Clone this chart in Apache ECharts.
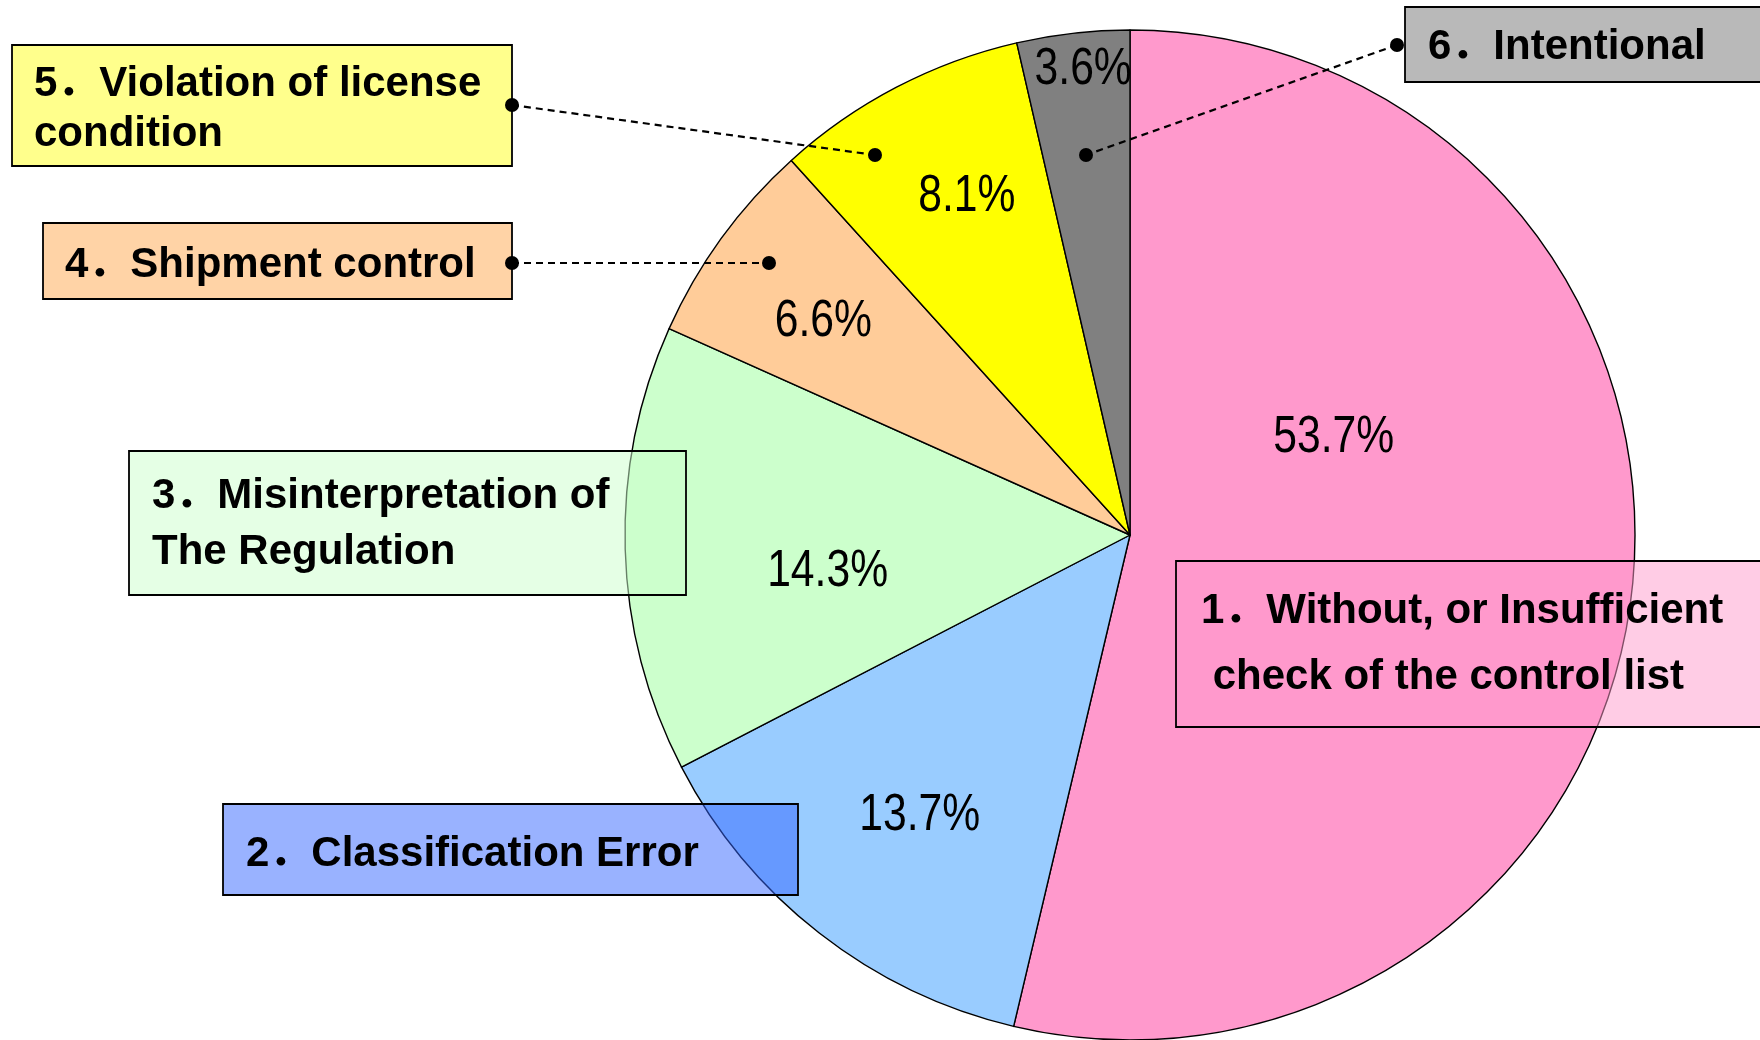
<!DOCTYPE html>
<html><head><meta charset="utf-8">
<script src="https://cdn.jsdelivr.net/npm/echarts@6/dist/echarts.min.js"></script>
<style>html,body{margin:0;padding:0;background:#fff}#c{width:1760px;height:1040px}</style>
</head><body><div id="c"></div>
<script>
// ---- data ----
const categories = [
  '1．Without, or Insufficient\n check of the control list',
  '2．Classification Error',
  '3．Misinterpretation of\nThe Regulation',
  '4．Shipment control',
  '5．Violation of license\ncondition',
  '6．Intentional'
];
const shares = [53.7, 13.7, 14.3, 6.6, 8.1, 3.6];

// ---- styles ----
const sliceColors = ['#FF99CC', '#99CCFF', '#CCFFCC', '#FFCC99', '#FFFF00', '#808080'];
const pctOffsets = [[-50, -127], [-53, 79], [-47, 29], [-100, -63], [-45, -112], [-18, -211]];
const boxes = [
  { x: 1176, y: 561, w: 600, h: 166, fill: 'rgba(255,153,204,0.5)', tx: 1201, ty: 644, lh: 66 },
  { x: 223, y: 804, w: 575, h: 91, fill: 'rgba(51,102,255,0.5)', tx: 246, ty: 854, lh: 50 },
  { x: 129, y: 451, w: 557, h: 144, fill: 'rgba(204,255,204,0.5)', tx: 152, ty: 524, lh: 56 },
  { x: 43, y: 223, w: 469, h: 76, fill: '#FFD3A6', tx: 65, ty: 265, lh: 50 },
  { x: 12, y: 45, w: 500, h: 121, fill: '#FFFF8C', tx: 34, ty: 109, lh: 50 },
  { x: 1405, y: 7, w: 370, h: 75, fill: '#B9B9B9', tx: 1428, ty: 47, lh: 50 }
];
const leaders = [
  { from: [512, 105], to: [875, 155] },
  { from: [512, 263], to: [769, 263] },
  { from: [1397, 45], to: [1086, 155] }
];
const boxFont = 'bold 42px "Liberation Sans", Arial, "Noto Sans CJK JP", sans-serif';

const chart = echarts.init(document.getElementById('c'), null, { renderer: 'canvas' });

const graphics = [];
boxes.forEach((b, i) => {
  graphics.push({
    type: 'rect', z: 100,
    shape: { x: b.x, y: b.y, width: b.w, height: b.h },
    style: { fill: b.fill, stroke: '#000', lineWidth: 1.8 }
  });
  graphics.push({
    type: 'text', z: 101, x: b.tx, y: b.ty,
    style: {
      text: categories[i], font: boxFont, fill: '#000',
      align: 'left', verticalAlign: 'middle', lineHeight: b.lh
    }
  });
});
leaders.forEach(l => {
  graphics.push({
    type: 'line', z: 102,
    shape: { x1: l.from[0], y1: l.from[1], x2: l.to[0], y2: l.to[1] },
    style: { stroke: '#000', lineWidth: 2.2, lineDash: [7, 5] }
  });
  [l.from, l.to].forEach(p => graphics.push({
    type: 'circle', z: 103, shape: { cx: p[0], cy: p[1], r: 7 }, style: { fill: '#000' }
  }));
});

chart.setOption({
  animation: false,
  backgroundColor: '#fff',
  series: [{
    type: 'pie',
    center: [1130, 535],
    radius: [0, 505],
    startAngle: 90,
    clockwise: true,
    avoidLabelOverlap: false,
    itemStyle: { borderColor: '#000', borderWidth: 1.4 },
    emphasis: { disabled: true },
    data: shares.map((v, i) => ({
      value: v,
      name: categories[i],
      itemStyle: { color: sliceColors[i] },
      label: { offset: pctOffsets[i] }
    })),
    label: {
      show: true,
      position: 'inside',
      formatter: p => p.value.toFixed(1) + '%',
      color: '#000',
      fontSize: 52,
      fontFamily: '"Liberation Sans", Arial, sans-serif',
      fontWeight: 'normal'
    },
    labelLine: { show: false }
  }],
  graphic: graphics
});

// narrow the percentage labels (condensed look of the original)
try {
  const data = chart.getModel().getSeriesByIndex(0).getData();
  for (let i = 0; i < data.count(); i++) {
    const el = data.getItemGraphicEl(i);
    const t = el && el.getTextContent && el.getTextContent();
    if (t) { t.scaleX = 0.82; t.markRedraw(); }
  }
  chart.getZr().refreshImmediately();
} catch (e) {}
</script>
</body></html>
